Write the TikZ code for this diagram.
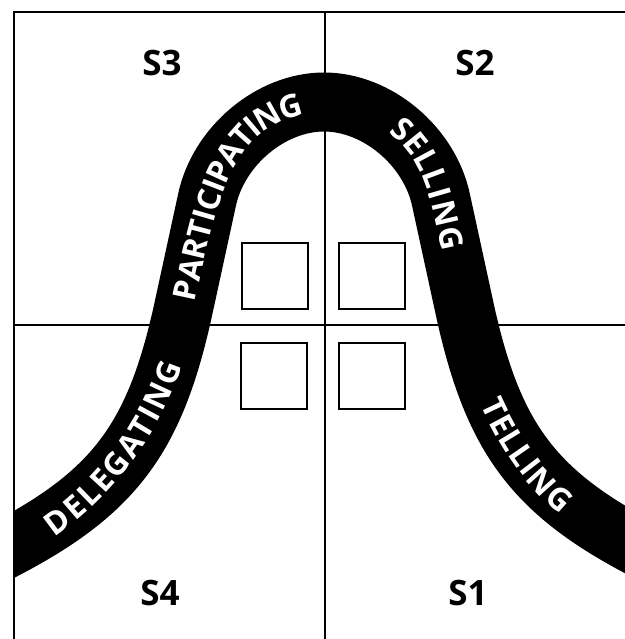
\documentclass[tikz,border=0pt]{standalone}
\usepackage{fontspec}
\setmainfont{Open Sans}
\usepackage{tikz}
\usetikzlibrary{decorations.text}

\newcommand{\bandfont}{\bfseries\fontsize{18}{19}\selectfont}

\begin{document}
\begin{tikzpicture}[x=0.02cm,y=-0.02cm,
    quad/.style={font=\bfseries\fontsize{19.9}{22}\selectfont,inner sep=0pt},
    box/.style={draw,line width=0.75pt,minimum size=1.32cm,inner sep=0pt},
    word/.style={decorate,decoration={text along path,text={|\bandfont|#1},
      text color=white,text align=fit to path,raise=-6.4pt}}]
  \useasboundingbox (0,0) rectangle (625,639);
  % frame and the two axes
  \draw[line width=1.1pt] (14,639) -- (14,12) -- (625,12);
  \draw[line width=0.75pt] (325,12) -- (325,639) (14,325) -- (625,325);
  % the bell-shaped band
  \begin{scope}
    \clip (14,0) rectangle (640,639);
    \draw[line width=1.18cm] (-10,557) .. controls (111,497) and (153,443) .. (182,315) -- (207,200)
      .. controls (218.5,146) and (271,102) .. (324,102) .. controls (377,102) and (429.5,146) .. (441,200)
      -- (466,315) .. controls (495,443) and (537,497) .. (658,557);
  \end{scope}
  % words along the band
  \path[word=DELEGATING] (48,528) .. controls (105,489) and (150,428) .. (172,362);
  \path[word=PARTICIPATING] (184,300) .. controls (207,192) and (223,119) .. (301,104);
  \path[word=SELLING] (395,124) .. controls (436,152) and (442,201) .. (453,250);
  \path[word=TELLING] (491,400) .. controls (509,440) and (534,479) .. (568,506);
  % the four small squares
  \foreach \bx/\by/\nm in {275/276/bA,372/276/bB,274/376/bC,372/376/bD}
    \node[box] (\nm) at (\bx,\by) {};
  % quadrant labels
  \node[quad] (s3) at (162,63) {S3};
  \node[quad] (s2) at (475,63) {S2};
  \node[quad] (s4) at (160,593) {S4};
  \node[quad] (s1) at (468,593) {S1};
\end{tikzpicture}
\end{document}
